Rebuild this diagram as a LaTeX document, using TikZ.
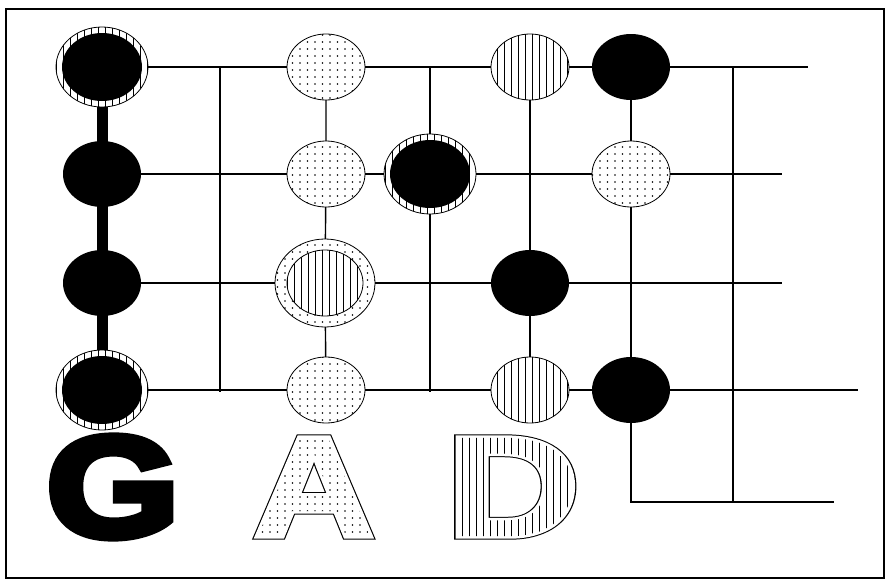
\documentclass[tikz,border=0pt]{standalone}
\usepackage{fontspec}
\newfontfamily\letterfont{Liberation Sans}
\usetikzlibrary{shapes.geometric,patterns}
\pgfdeclarepatternformonly{mydots}{\pgfqpoint{-1pt}{-1pt}}{\pgfqpoint{1pt}{1pt}}{\pgfqpoint{7.5pt}{7pt}}{\pgfpathcircle{\pgfqpoint{0pt}{0pt}}{0.85pt}\pgfusepath{fill}}
\pgfdeclarepatternformonly{myvlines}{\pgfqpoint{-1pt}{-1pt}}{\pgfqpoint{1pt}{8pt}}{\pgfqpoint{7pt}{7pt}}{\pgfsetlinewidth{0.9pt}\pgfpathmoveto{\pgfqpoint{0pt}{-1pt}}\pgfpathlineto{\pgfqpoint{0pt}{8pt}}\pgfusepath{stroke}}
\makeatletter
% heavy solid letter: fill + thick stroke
\newcommand\heavyletter[1]{{\pgfsys@invoke{2 Tr}\pgfsetmiterlimit{3}\pgfsetlinewidth{8pt}\pgfsetstrokecolor{black}\pgfsetfillcolor{black}#1\pgfsys@invoke{0 Tr}}}
% heavy outlined letter with pattern inside
\newcommand\patletter[2]{{%
  \rlap{\pgfsys@invoke{2 Tr}\pgfsetmiterlimit{3}\pgfsetlinewidth{7pt}\pgfsetstrokecolor{black}\pgfsetfillcolor{black}#2}%
  \rlap{\pgfsys@invoke{2 Tr}\pgfsetlinewidth{5pt}\pgfsetstrokecolor{white}\pgfsetfillcolor{white}#2}%
  \pgfsys@invoke{0 Tr}\pgfsetfillpattern{#1}{black}#2}}
\makeatother
\pgfdeclarelayer{back}
\pgfdeclarelayer{bg}
\pgfsetlayers{back,bg,main}
\tikzset{
  grid/.style={line width=1.4pt},
  base/.style={ellipse, inner sep=0pt, outer sep=0pt},
  blk/.style={base, fill=black, minimum width=78pt, minimum height=66pt},
  dotn/.style={base, draw, line width=0.8pt, preaction={fill=white}, pattern=mydots, minimum width=78pt, minimum height=66pt},
  hatn/.style={base, draw, line width=0.8pt, preaction={fill=white}, pattern=myvlines, minimum width=78pt, minimum height=66pt},
  ringblk/.style={base, draw, line width=0.8pt, preaction={fill=white}, pattern=myvlines, minimum width=92pt, minimum height=80pt,
    path picture={\fill[black] (path picture bounding box.center) ellipse [x radius=40pt, y radius=34pt];}},
  ringdot/.style={base, draw, line width=0.8pt, preaction={fill=white}, pattern=mydots, minimum width=100pt, minimum height=88pt,
    path picture={\fill[white] (path picture bounding box.center) ellipse [x radius=38pt, y radius=33pt];
      \draw[line width=0.8pt, pattern=myvlines] (path picture bounding box.center) ellipse [x radius=38pt, y radius=33pt];}},
  letter/.style={font={\letterfont\bfseries\fontsize{143pt}{143pt}\selectfont}, inner sep=0pt, outer sep=0pt}
}
\begin{document}
\begin{tikzpicture}[x=1pt, y=-1pt]
\useasboundingbox (0,0) rectangle (887,581);
\begin{pgfonlayer}{back}
\fill[white] (0,0) rectangle (887,581);
\end{pgfonlayer}
\draw[line width=2.5pt] (6,9) rectangle (884,578);
% nodes
\node[ringblk] (g1) at (102,67) {};
\node[blk] (g2) at (102,174) {};
\node[blk] (g3) at (102,283) {};
\node[ringblk] (g4) at (102,390) {};
\node[dotn] (a1) at (326,67) {};
\node[dotn] (a2) at (326,174) {};
\node[ringdot] (a3) at (325,283) {};
\node[dotn] (a4) at (326,390) {};
\node[ringblk] (b2) at (430,174) {};
\node[hatn] (d1) at (530,67) {};
\node[blk] (d3) at (530,283) {};
\node[hatn] (d4) at (530,390) {};
\node[blk] (e1) at (631,67) {};
\node[dotn] (e2) at (631,174) {};
\node[blk] (e4) at (631,390) {};
% free ends
\coordinate (r1e) at (808,67);
\coordinate (r2e) at (782,174);
\coordinate (r3e) at (782,283);
\coordinate (r4e) at (858,390);
\coordinate (bl) at (631,502);
\coordinate (br) at (834,502);
\coordinate (v1t) at (220,67);
\coordinate (v1b) at (220,392);
\coordinate (v3t) at (430,67);
\coordinate (v3b) at (430,392);
\coordinate (v6t) at (733,67);
\coordinate (v6b) at (733,502);
\begin{pgfonlayer}{bg}
\draw[line width=11pt] (g1) -- (g4);
\draw[grid] (g1) -- (a1) -- (d1) -- (e1) -- (r1e);
\draw[grid] (g2) -- (a2) -- (b2) -- (e2) -- (r2e);
\draw[grid] (g3) -- (a3) -- (d3) -- (r3e);
\draw[grid] (g4) -- (a4) -- (d4) -- (e4) -- (r4e);
\draw[grid] (a1) -- (a2) -- (a3) -- (a4);
\draw[grid] (d1) -- (d3) -- (d4);
\draw[grid] (e1) -- (e2) -- (e4) -- (bl) -- (br);
\draw[grid] (v1t) -- (v1b);
\draw[grid] (v3t) -- (b2) -- (v3b);
\draw[grid] (v6t) -- (v6b);
\end{pgfonlayer}
% letters
\node[letter, xscale=1.19] (G) at (113,487) {\heavyletter{G}};
\node[letter, xscale=1.17] (A) at (314,487) {\patletter{mydots}{A}};
\node[letter, xscale=1.29] (D) at (513,487) {\patletter{myvlines}{D}};
\end{tikzpicture}
\end{document}
